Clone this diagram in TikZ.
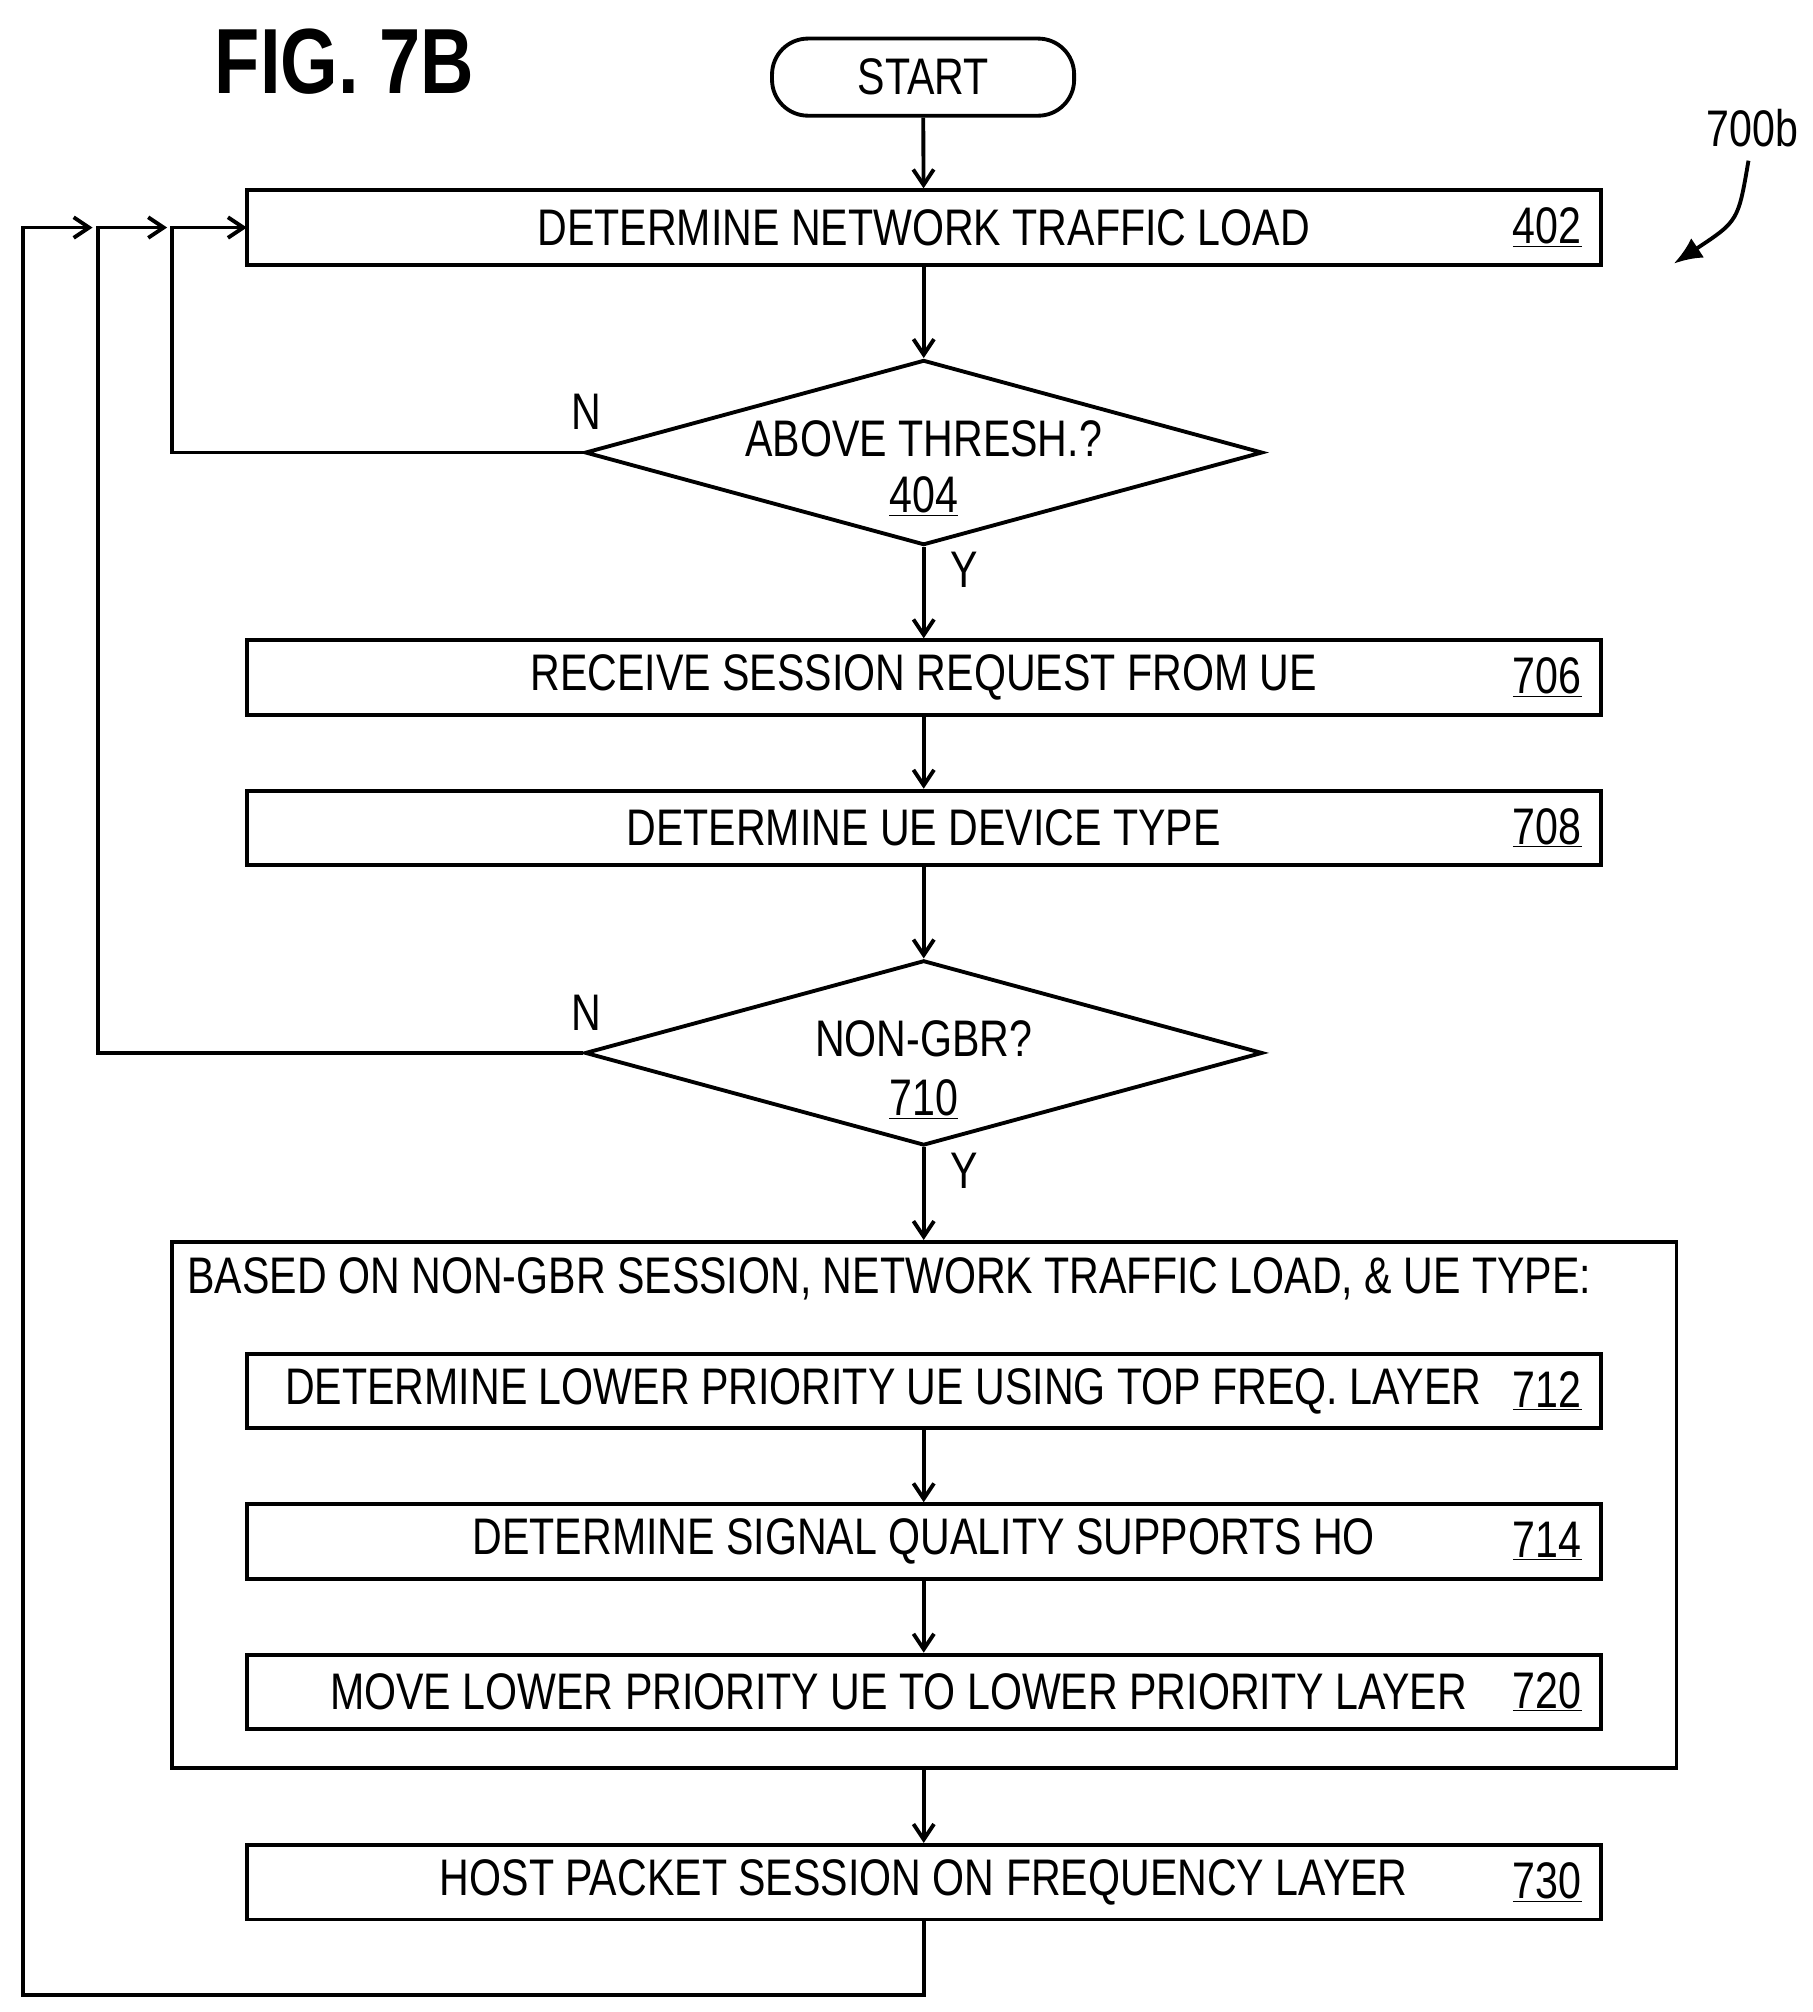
\documentclass[tikz,border=0pt]{standalone}
\usepackage{fontspec}
\setmainfont{Liberation Sans}[FakeStretch=0.8]
\usetikzlibrary{shapes.geometric,arrows.meta}
\begin{document}
\begin{tikzpicture}[x=1pt,y=-1pt,line width=3pt,
  box/.style={draw,minimum width=1053pt,minimum height=58pt,inner sep=0pt},
  dia/.style={draw,diamond,aspect=3.66,minimum width=527pt,minimum height=144pt,inner sep=0pt},
  txt/.style={font=\fontsize{40}{44}\selectfont},
  arr/.style={-{Straight Barb[length=12pt,width=16pt]}},
  num/.style={font=\fontsize{40}{44}\selectfont,anchor=east}]
\useasboundingbox (0,0) rectangle (1410,1565);
\node[font=\bfseries\fontsize{72}{76}\selectfont] (fig) at (268,48) {FIG. 7B};
\node[txt] (ref) at (1363,100) {700b};
\coordinate (ra) at (1360,125);
\coordinate (rb) at (1302,205);
\draw[-{Latex[length=22pt,width=18pt]}] (ra) .. controls (1352,172) .. (rb);
\node[draw,rounded corners=28pt,minimum width=235pt,minimum height=60pt,txt] (start) at (718,60) {START};
\node[box,txt] (b402) at (718.5,177) {DETERMINE NETWORK TRAFFIC LOAD};
\node[num] at (1235,177) {\underline{402}};
\node[dia] (d404) at (718.5,352) {};
\node[txt] (t404) at (718.5,341) {ABOVE THRESH.?};
\node[txt] at (718.5,386) {\underline{404}};
\node[box,txt] (b706) at (718.5,527) {RECEIVE SESSION REQUEST FROM UE};
\node[num] at (1235,527) {\underline{706}};
\node[box,txt] (b708) at (718.5,644) {DETERMINE UE DEVICE TYPE};
\node[num] at (1235,644) {\underline{708}};
\node[dia] (d710) at (718.5,819) {};
\node[txt] at (718.5,808) {NON-GBR?};
\node[txt] at (718.5,855) {\underline{710}};
\node[draw,minimum width=1170pt,minimum height=409pt,inner sep=0pt] (big) at (719,1170.5) {};
\node[txt,anchor=west] at (141,995) {BASED ON NON-GBR SESSION, NETWORK TRAFFIC LOAD, \& UE TYPE:};
\node[box] (b712) at (718.5,1082) {};
\node[txt,anchor=west] at (217,1082) {DETERMINE LOWER PRIORITY UE USING TOP FREQ. LAYER};
\node[num] at (1235,1082) {\underline{712}};
\node[box,txt] (b714) at (718.5,1199) {DETERMINE SIGNAL QUALITY SUPPORTS HO};
\node[num] at (1235,1199) {\underline{714}};
\node[box] (b720) at (718.5,1316) {};
\node[txt,anchor=west] at (252,1316) {MOVE LOWER PRIORITY UE TO LOWER PRIORITY LAYER};
\node[num] at (1235,1316) {\underline{720}};
\node[box,txt] (b730) at (718.5,1464) {HOST PACKET SESSION ON FREQUENCY LAYER};
\node[num] at (1235,1464) {\underline{730}};
\node[txt] at (456,320) {N};
\node[txt] at (456,788) {N};
\node[txt] at (750,443) {Y};
\node[txt] at (750,911) {Y};
\draw[arr] (start) -- (b402);
\draw[arr] (b402) -- (d404);
\draw[arr] (d404) -- (b706);
\draw[arr] (b706) -- (b708);
\draw[arr] (b708) -- (d710);
\draw[arr] (d710) -- (big.north -| d710);
\draw[arr] (b712) -- (b714);
\draw[arr] (b714) -- (b720);
\draw[arr] (big.south -| b730) -- (b730);
\coordinate (l1) at (192,177);
\coordinate (l2) at (130,177);
\coordinate (l3) at (72,177);
\draw[arr] (d404.west) -| (134,177) -- (l1);
\draw[arr] (d710.west) -| (76,177) -- (l2);
\draw[arr] (b730.south) |- (18,1552) -- (18,177) -- (l3);
\end{tikzpicture}
\end{document}
